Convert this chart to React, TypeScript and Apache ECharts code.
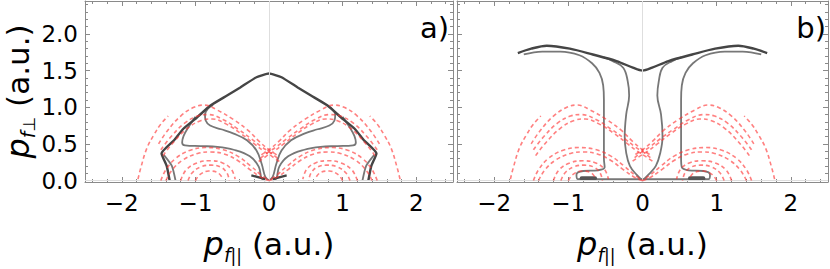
import React, { useEffect, useRef } from "react";
import * as echarts from "echarts";

// ---- ticks ----
const X_MAJOR = [-2, -1, 0, 1, 2];
const X_LABELS = ["−2", "−1", "0", "1", "2"];
const X_MINOR = [-2.4, -2.2, -1.8, -1.6, -1.4, -1.2, -0.8, -0.6, -0.4, -0.2, 0.2, 0.4, 0.6, 0.8, 1.2, 1.4, 1.6, 1.8, 2.2, 2.4];
const Y_MAJOR = [0, 0.5, 1, 1.5, 2];
const Y_LABELS = ["0.0", "0.5", "1.0", "1.5", "2.0"];
const Y_MINOR = [0.1, 0.2, 0.3, 0.4, 0.6, 0.7, 0.8, 0.9, 1.1, 1.2, 1.3, 1.4, 1.6, 1.7, 1.8, 1.9, 2.1, 2.2, 2.3, 2.4];

// ---- red dashed curves (same in both panels) ----
const RED_OUTER_L = [[-1.78, 0.02], [-1.74, 0.18], [-1.66, 0.44], [-1.56, 0.63], [-1.47, 0.77], [-1.37, 0.88]];
const RED_OUTER_R = [[1.78, 0.02], [1.74, 0.18], [1.66, 0.44], [1.56, 0.63], [1.47, 0.77], [1.37, 0.88]];
const RED_DOME1_L = [[-1.5, 0.5], [-1.38, 0.68], [-1.2, 0.88], [-1.02, 1.0], [-0.88, 1.03], [-0.7, 0.96], [-0.48, 0.83], [-0.28, 0.68], [-0.13, 0.53], [0, 0.42], [0.12, 0.34]];
const RED_DOME1_R = [[1.5, 0.5], [1.38, 0.68], [1.2, 0.88], [1.02, 1.0], [0.88, 1.03], [0.7, 0.96], [0.48, 0.83], [0.28, 0.68], [0.13, 0.53], [0, 0.42], [-0.12, 0.34]];
const RED_DOME2_L = [[-1.47, 0.42], [-1.33, 0.6], [-1.15, 0.78], [-0.97, 0.88], [-0.82, 0.9], [-0.62, 0.83], [-0.42, 0.7], [-0.24, 0.57], [-0.1, 0.46], [0.02, 0.38], [0.12, 0.3]];
const RED_DOME2_R = [[1.47, 0.42], [1.33, 0.6], [1.15, 0.78], [0.97, 0.88], [0.82, 0.9], [0.62, 0.83], [0.42, 0.7], [0.24, 0.57], [0.1, 0.46], [-0.02, 0.38], [-0.12, 0.3]];
const RED_DOME3_L = [[-1.44, 0.34], [-1.3, 0.52], [-1.1, 0.72], [-0.92, 0.82], [-0.77, 0.84], [-0.58, 0.77], [-0.38, 0.64], [-0.2, 0.5], [-0.07, 0.4], [0.04, 0.33], [0.14, 0.26]];
const RED_DOME3_R = [[1.44, 0.34], [1.3, 0.52], [1.1, 0.72], [0.92, 0.82], [0.77, 0.84], [0.58, 0.77], [0.38, 0.64], [0.2, 0.5], [0.07, 0.4], [-0.04, 0.33], [-0.14, 0.26]];
const RED_LOW1_L = [[-1.47, 0.0], [-1.4, 0.15], [-1.27, 0.3], [-1.08, 0.41], [-0.86, 0.45], [-0.62, 0.42], [-0.42, 0.33], [-0.25, 0.2], [-0.1, 0.07], [0, 0]];
const RED_LOW1_R = [[1.47, 0.0], [1.4, 0.15], [1.27, 0.3], [1.08, 0.41], [0.86, 0.45], [0.62, 0.42], [0.42, 0.33], [0.25, 0.2], [0.1, 0.07], [0, 0]];
const RED_LOW2_L = [[-1.4, 0.0], [-1.32, 0.14], [-1.17, 0.28], [-0.97, 0.37], [-0.8, 0.39], [-0.6, 0.36], [-0.42, 0.27], [-0.26, 0.15], [-0.1, 0.04], [0, 0]];
const RED_LOW2_R = [[1.4, 0.0], [1.32, 0.14], [1.17, 0.28], [0.97, 0.37], [0.8, 0.39], [0.6, 0.36], [0.42, 0.27], [0.26, 0.15], [0.1, 0.04], [0, 0]];
const RED_SMALL1_L = [[-1.2, 0.0], [-1.13, 0.14], [-0.98, 0.24], [-0.8, 0.27], [-0.63, 0.24], [-0.51, 0.15], [-0.46, 0.02]];
const RED_SMALL1_R = [[1.2, 0.0], [1.13, 0.14], [0.98, 0.24], [0.8, 0.27], [0.63, 0.24], [0.51, 0.15], [0.46, 0.02]];
const RED_SMALL2_L = [[-1.1, 0.0], [-1.04, 0.11], [-0.92, 0.19], [-0.78, 0.21], [-0.65, 0.18], [-0.57, 0.1], [-0.54, 0.0]];
const RED_SMALL2_R = [[1.1, 0.0], [1.04, 0.11], [0.92, 0.19], [0.78, 0.21], [0.65, 0.18], [0.57, 0.1], [0.54, 0.0]];
const RED_SMALL3_L = [[-1.0, 0.0], [-0.94, 0.08], [-0.82, 0.13], [-0.7, 0.11], [-0.63, 0.03]];
const RED_SMALL3_R = [[1.0, 0.0], [0.94, 0.08], [0.82, 0.13], [0.7, 0.11], [0.63, 0.03]];

// ---- panel a gray curves ----
const A_ENVELOPE = [[-1.35, 0.0], [-1.39, 0.2], [-1.46, 0.37], [-1.29, 0.55], [-1.16, 0.71], [-0.98, 0.86], [-0.8, 1.02], [-0.57, 1.16], [-0.39, 1.27], [-0.17, 1.41], [0, 1.46], [0.17, 1.41], [0.39, 1.27], [0.57, 1.16], [0.8, 1.02], [0.98, 0.86], [1.16, 0.71], [1.29, 0.55], [1.46, 0.37], [1.39, 0.2], [1.35, 0.0]];
const A_FOOT_L = [[-1.27, 0.0], [-1.32, 0.2], [-1.43, 0.35]];
const A_FOOT_R = [[1.27, 0.0], [1.32, 0.2], [1.43, 0.35]];
const A_UPPER_L = [[-0.76, 1.03], [-0.83, 0.98], [-0.87, 0.9], [-0.86, 0.82], [-0.8, 0.75], [-0.65, 0.7], [-0.48, 0.64], [-0.3, 0.55], [-0.17, 0.41], [-0.1, 0.23], [-0.05, 0.05], [0, 0]];
const A_UPPER_R = [[0.78, 1.03], [0.85, 0.98], [0.9, 0.9], [0.89, 0.82], [0.82, 0.75], [0.66, 0.7], [0.48, 0.64], [0.3, 0.55], [0.17, 0.41], [0.1, 0.23], [0.05, 0.05], [0, 0]];
const A_LOWER_L = [[-1.0, 0.87], [-1.1, 0.72], [-1.16, 0.61], [-1.18, 0.52], [-1.14, 0.48], [-0.93, 0.47], [-0.7, 0.46], [-0.48, 0.42], [-0.26, 0.33], [-0.14, 0.19], [-0.1, 0.03], [-0.05, 0.0]];
const A_LOWER_R = [[1.0, 0.87], [1.1, 0.72], [1.16, 0.61], [1.18, 0.52], [1.14, 0.48], [0.93, 0.47], [0.7, 0.46], [0.48, 0.42], [0.26, 0.33], [0.14, 0.19], [0.1, 0.03], [0.05, 0.0]];
const A_ARROW_L = [[-0.24, 0.07], [-0.05, 0.02]];
const A_ARROW_R = [[0.24, 0.07], [0.05, 0.02]];

// ---- panel b gray curves ----
const B_ENVELOPE = [[-1.68, 1.74], [-1.5, 1.8], [-1.29, 1.84], [-0.98, 1.8], [-0.67, 1.72], [-0.35, 1.63], [-0.13, 1.54], [0, 1.5], [0.13, 1.54], [0.35, 1.63], [0.67, 1.72], [0.98, 1.8], [1.29, 1.84], [1.5, 1.8], [1.68, 1.74]];
const B_OUTER_L = [[-1.6, 1.72], [-1.35, 1.76], [-1.11, 1.76], [-0.85, 1.71], [-0.68, 1.6], [-0.58, 1.47], [-0.53, 1.3], [-0.52, 1.1], [-0.52, 0.7], [-0.52, 0.3], [-0.51, 0.18], [-0.6, 0.14], [-0.8, 0.13], [-0.89, 0.08], [-0.87, 0.02], [-0.7, 0.02], [0, 0.02]];
const B_OUTER_R = [[1.6, 1.72], [1.35, 1.76], [1.11, 1.76], [0.85, 1.71], [0.68, 1.6], [0.58, 1.47], [0.53, 1.3], [0.52, 1.1], [0.52, 0.7], [0.52, 0.3], [0.53, 0.18], [0.62, 0.14], [0.82, 0.13], [0.91, 0.08], [0.89, 0.02], [0.7, 0.02], [0, 0.02]];
const B_INNER_L = [[-0.52, 1.68], [-0.4, 1.63], [-0.26, 1.54], [-0.2, 1.36], [-0.18, 1.16], [-0.22, 0.9], [-0.24, 0.6], [-0.22, 0.38], [-0.17, 0.2], [-0.08, 0.08], [0, 0]];
const B_INNER_R = [[0.52, 1.68], [0.4, 1.63], [0.27, 1.54], [0.22, 1.36], [0.2, 1.16], [0.25, 0.9], [0.27, 0.6], [0.24, 0.38], [0.18, 0.2], [0.08, 0.08], [0, 0]];
const B_BLOB_L = [[-0.82, 0.03], [-0.64, 0.03]];
const B_BLOB_R = [[0.64, 0.03], [0.82, 0.03]];

const RED_CURVES = [RED_OUTER_L, RED_OUTER_R, RED_DOME1_L, RED_DOME1_R, RED_DOME2_L, RED_DOME2_R, RED_DOME3_L, RED_DOME3_R, RED_LOW1_L, RED_LOW1_R, RED_LOW2_L, RED_LOW2_R, RED_SMALL1_L, RED_SMALL1_R, RED_SMALL2_L, RED_SMALL2_R, RED_SMALL3_L, RED_SMALL3_R];

const FONT = "'DejaVu Sans', 'Liberation Sans', Arial, sans-serif";
const FRAME = "#8a8a8a";
const X_MIN = -2.5, X_MAX = 2.5, Y_MIN = -0.02, Y_MAX = 2.45;

const nameRich = {
  p: { fontFamily: FONT, fontStyle: "italic", fontSize: 32, lineHeight: 40, color: "#000", verticalAlign: "middle" },
  f: { fontFamily: FONT, fontStyle: "italic", fontSize: 19, lineHeight: 17, color: "#000", verticalAlign: "bottom" },
  b: { fontFamily: FONT, fontSize: 17, lineHeight: 17, color: "#000", verticalAlign: "bottom" },
  t: { fontFamily: FONT, fontSize: 31, lineHeight: 40, color: "#000", verticalAlign: "middle" },
};

const noZero = { onZero: false };

function xAxes(grid: number, withName: boolean) {
  const base = { type: "value", gridIndex: grid, min: X_MIN, max: X_MAX, splitLine: { show: false } };
  return [
    {
      ...base, position: "bottom",
      axisLine: { show: true, ...noZero, lineStyle: { color: FRAME, width: 1 } },
      axisTick: { show: true, inside: true, length: 5, customValues: X_MAJOR, lineStyle: { color: FRAME } },
      axisLabel: { show: true, customValues: X_MAJOR, margin: 9, fontSize: 23, fontFamily: FONT, color: "#000",
        formatter: (v: number) => X_LABELS[X_MAJOR.indexOf(v)] ?? "" },
      name: withName ? "{p|p}{f|f}{b|||}{t| (a.u.)}" : "",
      nameLocation: "middle", nameGap: 42,
      nameTextStyle: { rich: nameRich },
    },
    { ...base, position: "bottom", axisLine: { show: false, ...noZero },
      axisTick: { show: true, inside: true, length: 3, customValues: X_MINOR, lineStyle: { color: FRAME } },
      axisLabel: { show: false } },
    { ...base, position: "top",
      axisLine: { show: true, ...noZero, lineStyle: { color: FRAME, width: 1 } },
      axisTick: { show: true, inside: true, length: 5, customValues: X_MAJOR, lineStyle: { color: FRAME } },
      axisLabel: { show: false } },
    { ...base, position: "top", axisLine: { show: false, ...noZero },
      axisTick: { show: true, inside: true, length: 3, customValues: X_MINOR, lineStyle: { color: FRAME } },
      axisLabel: { show: false } },
  ];
}

function yAxes(grid: number, withLabels: boolean) {
  const base = { type: "value", gridIndex: grid, min: Y_MIN, max: Y_MAX, splitLine: { show: false } };
  return [
    {
      ...base, position: "left",
      axisLine: { show: true, ...noZero, lineStyle: { color: FRAME, width: 1 } },
      axisTick: { show: true, inside: true, length: 5, customValues: Y_MAJOR, lineStyle: { color: FRAME } },
      axisLabel: { show: withLabels, customValues: Y_MAJOR, margin: 7, fontSize: 23, fontFamily: FONT, color: "#000",
        formatter: (v: number) => Y_LABELS[Y_MAJOR.indexOf(v)] ?? "" },
      name: withLabels ? "{p|p}{f|f}{b|⊥}{t| (a.u.)}" : "",
      nameLocation: "middle", nameGap: 46, nameRotate: 90,
      nameTextStyle: { rich: nameRich },
    },
    { ...base, position: "left", axisLine: { show: false, ...noZero },
      axisTick: { show: true, inside: true, length: 3, customValues: Y_MINOR, lineStyle: { color: FRAME } },
      axisLabel: { show: false } },
    { ...base, position: "right",
      axisLine: { show: true, ...noZero, lineStyle: { color: FRAME, width: 1 } },
      axisTick: { show: true, inside: true, length: 5, customValues: Y_MAJOR, lineStyle: { color: FRAME } },
      axisLabel: { show: false } },
    { ...base, position: "right", axisLine: { show: false, ...noZero },
      axisTick: { show: true, inside: true, length: 3, customValues: Y_MINOR, lineStyle: { color: FRAME } },
      axisLabel: { show: false } },
  ];
}

const RED_STYLE = { color: "rgba(255,50,50,0.62)", width: 1.6, type: [4, 3] };
const GRAY_STYLE = { color: "#777777", width: 1.8 };
const DARK_STYLE = { color: "#454545", width: 2.4 };
const BLOB_STYLE = { color: "#555555", width: 4, cap: "round" };

function line(data: number[][], grid: number, style: any, smooth: number | boolean, z: number) {
  return {
    type: "line", xAxisIndex: grid * 4, yAxisIndex: grid * 4, data,
    symbol: "none", showSymbol: false, smooth, silent: true, z,
    lineStyle: style,
  };
}

function panelSeries(grid: number) {
  const s: any[] = [];
  s.push({
    type: "line", xAxisIndex: grid * 4, yAxisIndex: grid * 4, data: [], silent: true, z: 1,
    markLine: { symbol: "none", silent: true, animation: false, label: { show: false },
      lineStyle: { color: "#dedede", width: 1, type: "solid" },
      data: [{ xAxis: 0 }, { yAxis: 0 }] },
  });
  if (grid === 0) {
    s.push(line(A_FOOT_L, grid, GRAY_STYLE, 0.2, 3));
    s.push(line(A_FOOT_R, grid, GRAY_STYLE, 0.2, 3));
    s.push(line(A_UPPER_L, grid, GRAY_STYLE, 0.4, 3));
    s.push(line(A_UPPER_R, grid, GRAY_STYLE, 0.4, 3));
    s.push(line(A_LOWER_L, grid, GRAY_STYLE, 0.4, 3));
    s.push(line(A_LOWER_R, grid, GRAY_STYLE, 0.4, 3));
    s.push(line(A_ENVELOPE, grid, DARK_STYLE, 0.15, 4));
    s.push(line(A_ARROW_L, grid, DARK_STYLE, false, 4));
    s.push(line(A_ARROW_R, grid, DARK_STYLE, false, 4));
  } else {
    s.push(line(B_OUTER_L, grid, GRAY_STYLE, 0.4, 3));
    s.push(line(B_OUTER_R, grid, GRAY_STYLE, 0.4, 3));
    s.push(line(B_INNER_L, grid, GRAY_STYLE, 0.4, 3));
    s.push(line(B_INNER_R, grid, GRAY_STYLE, 0.4, 3));
    s.push(line(B_ENVELOPE, grid, DARK_STYLE, 0.3, 4));
    s.push(line(B_BLOB_L, grid, BLOB_STYLE, false, 4));
    s.push(line(B_BLOB_R, grid, BLOB_STYLE, false, 4));
  }
  RED_CURVES.forEach((c) => s.push(line(c, grid, RED_STYLE, 0.4, 5)));
  return s;
}

export default function App() {
  const ref = useRef<HTMLDivElement>(null);
  useEffect(() => {
    if (!ref.current) return;
    const chart = echarts.init(ref.current, undefined, { renderer: "svg" });
    chart.setOption({
      animation: false,
      backgroundColor: "#ffffff",
      grid: [
        { left: 85, top: 1, width: 368, height: 182.5, containLabel: false },
        { left: 457, top: 1, width: 371, height: 182.5, containLabel: false },
      ],
      xAxis: [...xAxes(0, true), ...xAxes(1, true)],
      yAxis: [...yAxes(0, true), ...yAxes(1, false)],
      series: [...panelSeries(0), ...panelSeries(1)],
      graphic: [
        { type: "text", right: 381, top: 13, style: { text: "a)", fontSize: 29, fontFamily: FONT, fill: "#000" } },
        { type: "text", right: 4, top: 13, style: { text: "b)", fontSize: 29, fontFamily: FONT, fill: "#000" } },
      ],
    });
    return () => chart.dispose();
  }, []);
  return <div ref={ref} style={{ position: "fixed", left: 0, top: 0, width: 830, height: 269 }} />;
}
